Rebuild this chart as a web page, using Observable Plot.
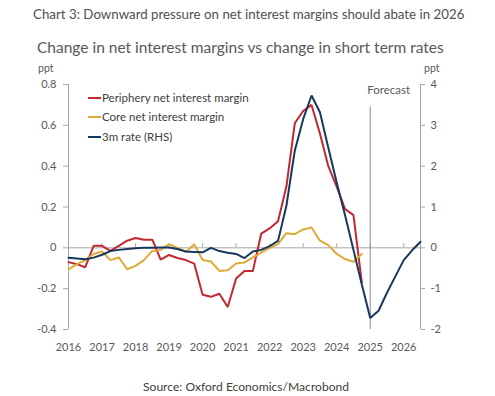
<!DOCTYPE html>
<html>
<head>
<meta charset="utf-8">
<script src="https://cdn.jsdelivr.net/npm/d3@7"></script>
<script src="https://cdn.jsdelivr.net/npm/@observablehq/plot@0.6"></script>
<style>
  html, body { margin: 0; padding: 0; background: #fff; }
  #wrap { position: relative; width: 495px; height: 396px; font-family: Lato, "Open Sans", sans-serif; color: #595959; overflow: hidden; }
  .abs { position: absolute; white-space: nowrap; }
  #title { left: 33px; top: 6px; font-size: 13.3px; color: #505050; }
  #subtitle { left: 37px; top: 38px; font-size: 15.5px; color: #595959; }
  .ppt { top: 62px; font-size: 10.5px; color: #595959; }
  #chart { position: absolute; left: 0; top: 60px; }
  #legend { left: 88px; top: 90px; font-size: 11.5px; color: #404040; }
  #legend div { height: 19.3px; line-height: 16px; }
  #legend span.sw { display: inline-block; width: 13px; height: 2px; vertical-align: middle; margin-right: 1px; position: relative; top: -1px; }
  #source { left: 143px; top: 379px; font-size: 12.1px; color: #404040; }
</style>
</head>
<body>
<div id="wrap">
  <div id="title" class="abs">Chart 3: Downward pressure on net interest margins should abate in 2026</div>
  <div id="subtitle" class="abs">Change in net interest margins vs change in short term rates</div>
  <div class="abs ppt" style="left:38px">ppt</div>
  <div class="abs ppt" style="left:424px">ppt</div>
  <div id="chart"></div>
  <div id="legend" class="abs"></div>
  <div id="source" class="abs">Source: Oxford Economics/Macrobond</div>
</div>
<script>
// Quarterly categories
const quarters = [
  "2016Q1","2016Q2","2016Q3","2016Q4","2017Q1","2017Q2","2017Q3","2017Q4",
  "2018Q1","2018Q2","2018Q3","2018Q4","2019Q1","2019Q2","2019Q3","2019Q4",
  "2020Q1","2020Q2","2020Q3","2020Q4","2021Q1","2021Q2","2021Q3","2021Q4",
  "2022Q1","2022Q2","2022Q3","2022Q4","2023Q1","2023Q2","2023Q3","2023Q4",
  "2024Q1","2024Q2","2024Q3","2024Q4","2025Q1","2025Q2","2025Q3","2025Q4",
  "2026Q1","2026Q2","2026Q3"
];
// Periphery net interest margin, ppt change (LHS)
const periphery = [
  -0.07, -0.08, -0.095, 0.01, 0.01, -0.015, 0.01, 0.035,
  0.048, 0.04, 0.04, -0.058, -0.035, -0.05, -0.06, -0.077,
  -0.23, -0.24, -0.225, -0.29, -0.15, -0.113, -0.113, 0.07,
  0.095, 0.13, 0.30, 0.61, 0.67, 0.70, 0.56, 0.40,
  0.30, 0.19, 0.16, -0.17
];
// Core net interest margin, ppt change (LHS)
const core = [
  -0.105, -0.08, -0.06, -0.03, -0.018, -0.06, -0.047, -0.105,
  -0.088, -0.06, -0.015, -0.01, 0.018, 0.0, -0.02, 0.018,
  -0.06, -0.067, -0.113, -0.11, -0.077, -0.072, -0.047, -0.023,
  0.0, 0.018, 0.072, 0.067, 0.09, 0.10, 0.035, 0.013,
  -0.03, -0.055, -0.068, -0.03
];
// 3m rate, ppt change (RHS)
const rate3m = [
  -0.24, -0.26, -0.28, -0.24, -0.17, -0.08, -0.05, -0.03,
  -0.01, 0.0, 0.0, 0.01, 0.01, -0.03, -0.09, -0.1,
  -0.11, 0.0, -0.08, -0.12, -0.15, -0.25, -0.09, -0.05,
  0.04, 0.17, 1.03, 2.38, 3.15, 3.73, 3.32, 2.45,
  1.6, 0.8, -0.05, -0.9, -1.72, -1.54, -1.1, -0.70,
  -0.30, -0.06, 0.15
];
const seriesNames = ["Periphery net interest margin", "Core net interest margin", "3m rate (RHS)"];
const seriesColors = ["#c3272f", "#dfaa35", "#17375e"];
const yearTicks = [2016, 2017, 2018, 2019, 2020, 2021, 2022, 2023, 2024, 2025, 2026];
const leftTicks = [-0.4, -0.2, 0, 0.2, 0.4, 0.6, 0.8];
const rhsRatio = 5; // RHS units per LHS unit
const forecastStart = 2025;
const forecastTop = 0.69;

const qx = q => +q.slice(0, 4) + (+q.slice(5) - 1) / 4;
const rows = [];
periphery.forEach((v, i) => rows.push({x: qx(quarters[i]), y: v, s: seriesNames[0]}));
core.forEach((v, i) => rows.push({x: qx(quarters[i]), y: v, s: seriesNames[1]}));
rate3m.forEach((v, i) => rows.push({x: qx(quarters[i]), y: v / rhsRatio, s: seriesNames[2]}));

const fmt = d => d === 0 ? "0" : (d < 0 ? "-" : "") + Math.abs(d).toFixed(1);
const fmtR = d => { const v = Math.round(d * rhsRatio); return v < 0 ? "-" + Math.abs(v) : String(v); };

const axisColor = "#a6a6a6";
const chart = Plot.plot({
  width: 495,
  height: 300,
  marginTop: 24,
  marginBottom: 31,
  marginLeft: 68,
  marginRight: 75,
  style: {fontFamily: "Lato, 'Open Sans', sans-serif", fontSize: "11px", color: "#595959", background: "transparent"},
  x: {domain: [yearTicks[0], qx(quarters[quarters.length - 1])]},
  y: {domain: [leftTicks[0], leftTicks[leftTicks.length - 1]]},
  color: {domain: seriesNames, range: seriesColors},
  marks: [
    Plot.ruleY([0], {stroke: axisColor, strokeWidth: 1}),
    Plot.ruleX(yearTicks, {x: d => d, y1: 0, y2: 0, insetTop: -4, stroke: axisColor}),
    Plot.ruleX([yearTicks[0]], {y1: leftTicks[0], y2: leftTicks[leftTicks.length - 1], stroke: axisColor}),
    Plot.ruleX([qx(quarters[quarters.length - 1])], {y1: leftTicks[0], y2: leftTicks[leftTicks.length - 1], stroke: axisColor}),
    Plot.ruleX([forecastStart], {y1: leftTicks[0], y2: forecastTop, stroke: "#8c8c8c"}),
    Plot.text(["Forecast"], {x: forecastStart, y: leftTicks[leftTicks.length - 1], text: d => d, textAnchor: "start", dx: -3, dy: 6, fontSize: 11.5, fill: "#595959"}),
    Plot.axisY({anchor: "left", ticks: leftTicks, tickFormat: fmt, tickSize: 5, tickPadding: 7, label: null, stroke: axisColor, fill: "#595959"}),
    Plot.axisY({anchor: "right", ticks: leftTicks, tickFormat: fmtR, tickSize: 4, tickPadding: 6, label: null, stroke: axisColor, fill: "#595959"}),
    Plot.axisX({ticks: yearTicks, tickFormat: d => String(d), tickSize: 0, tickPadding: 14, label: null, fill: "#595959"}),
    Plot.line(rows, {x: "x", y: "y", z: "s", stroke: "s", strokeWidth: 2, strokeLinejoin: "miter", curve: "linear"})
  ]
});
document.getElementById("chart").appendChild(chart);

const legend = document.getElementById("legend");
seriesNames.forEach((n, i) => {
  const row = document.createElement("div");
  const sw = document.createElement("span");
  sw.className = "sw";
  sw.style.background = seriesColors[i];
  row.appendChild(sw);
  row.appendChild(document.createTextNode(n));
  legend.appendChild(row);
});
</script>
</body>
</html>
